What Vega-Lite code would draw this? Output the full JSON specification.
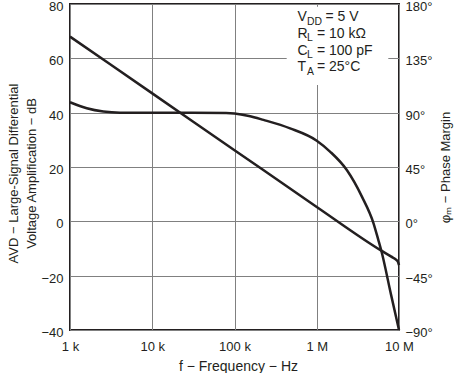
{
  "$schema": "https://vega.github.io/schema/vega-lite/v6.json",
  "width": 329,
  "height": 326,
  "autosize": "none",
  "padding": {"left": 70, "top": 4, "right": 57, "bottom": 43},
  "background": "white",
  "config": {
    "font": "Liberation Sans",
    "view": {"stroke": "#231f20", "strokeWidth": 2},
    "axis": {
      "labelFont": "Liberation Sans",
      "labelFontSize": 13,
      "labelColor": "#231f20",
      "titleFont": "Liberation Sans",
      "titleFontSize": 13,
      "titleFontWeight": "normal",
      "titleColor": "#231f20",
      "ticks": false,
      "tickSize": 0,
      "domain": false,
      "gridColor": "#808080",
      "gridWidth": 1,
      "gridOpacity": 1
    },
    "text": {"font": "Liberation Sans", "color": "#231f20"}
  },
  "datasets": {
    "gain": [
      {"f": 1000, "v": 68},
      {"f": 10000, "v": 47.1},
      {"f": 100000, "v": 26.2},
      {"f": 1000000, "v": 5.3},
      {"f": 6100000, "v": -10.8},
      {"f": 8060000, "v": -13.0},
      {"f": 9270000, "v": -14.2},
      {"f": 9700000, "v": -14.9},
      {"f": 10000000, "v": -16.1}
    ],
    "phase": [
      {"f": 1000, "deg": 98.6},
      {"f": 1600, "deg": 93.6},
      {"f": 2540, "deg": 90.9},
      {"f": 4060, "deg": 90.0},
      {"f": 10000, "deg": 90.0},
      {"f": 30000, "deg": 90.0},
      {"f": 79000, "deg": 89.8},
      {"f": 100000, "deg": 89.4},
      {"f": 150000, "deg": 87.3},
      {"f": 225000, "deg": 84.0},
      {"f": 474000, "deg": 77.0},
      {"f": 1000000, "deg": 66.8},
      {"f": 1460000, "deg": 57.6},
      {"f": 2320000, "deg": 42.5},
      {"f": 3540000, "deg": 20.5},
      {"f": 4900000, "deg": -1.6},
      {"f": 5600000, "deg": -15.3},
      {"f": 6120000, "deg": -24.8},
      {"f": 8000000, "deg": -60.7},
      {"f": 10000000, "deg": -90}
    ],
    "box": [{"f1": 431000, "f2": 7410000, "v1": 50.2, "v2": 79.0}],
    "notes": [
      {"f": 582000, "v": 73.63, "main": "V", "sub": "DD", "rest": "= 5 V"},
      {"f": 582000, "v": 67.48, "main": "R", "sub": "L", "rest": "= 10 kΩ"},
      {"f": 582000, "v": 61.33, "main": "C", "sub": "L", "rest": "= 100 pF"},
      {"f": 582000, "v": 55.23, "main": "T", "sub": "A", "rest": "= 25°C"}
    ]
  },
  "layer": [
    {
      "layer": [
        {
          "data": {"name": "box"},
          "mark": {"type": "rect", "fill": "white", "stroke": null},
          "encoding": {
            "x": {"field": "f1", "type": "quantitative", "scale": {"type": "log", "domain": [1000, 10000000], "nice": false}},
            "x2": {"field": "f2"},
            "y": {"field": "v1", "type": "quantitative"},
            "y2": {"field": "v2"}
          }
        },
        {
          "data": {"name": "gain"},
          "mark": {"type": "line", "color": "#231f20", "strokeWidth": 2.5, "interpolate": "monotone"},
          "encoding": {
            "x": {
              "field": "f",
              "type": "quantitative",
              "scale": {"type": "log", "domain": [1000, 10000000], "nice": false},
              "axis": {
                "values": [1000, 10000, 100000, 1000000, 10000000],
                "labelExpr": "datum.value >= 1000000 ? (datum.value / 1000000) + ' M' : (datum.value / 1000) + ' k'",
                "labelFlush": false,
                "labelPadding": 10,
                "labelBaseline": "top",
                "grid": true,
                "title": "f − Frequency − Hz",
                "titleFontSize": 14,
                "titleBaseline": "alphabetic",
                "titleX": 168,
                "titleY": 40
              }
            },
            "y": {
              "field": "v",
              "type": "quantitative",
              "scale": {"domain": [-40, 80], "nice": false, "zero": false},
              "axis": {
                "values": [-40, -20, 0, 20, 40, 60, 80],
                "grid": true,
                "labelPadding": 7,
                "labelOffset": 2.5,
                "title": ["AVD − Large-Signal Differential", "Voltage Amplification − dB"],
                "titleAngle": 270,
                "titleBaseline": "bottom",
                "titleLineHeight": 18,
                "titleX": -50,
                "titleY": 169
              }
            }
          }
        },
        {
          "data": {"name": "notes"},
          "mark": {"type": "text", "align": "left", "baseline": "alphabetic", "fontSize": 14},
          "encoding": {
            "x": {"field": "f", "type": "quantitative"},
            "y": {"field": "v", "type": "quantitative"},
            "text": {"field": "main"}
          }
        },
        {
          "data": {"name": "notes"},
          "mark": {"type": "text", "align": "left", "baseline": "alphabetic", "fontSize": 10.4, "dx": 9.6, "dy": 3.4},
          "encoding": {
            "x": {"field": "f", "type": "quantitative"},
            "y": {"field": "v", "type": "quantitative"},
            "text": {"field": "sub"}
          }
        },
        {
          "data": {"name": "notes"},
          "transform": [{"filter": "datum.sub == 'DD'"}],
          "mark": {"type": "text", "align": "left", "baseline": "alphabetic", "fontSize": 14, "dx": 28},
          "encoding": {
            "x": {"field": "f", "type": "quantitative"},
            "y": {"field": "v", "type": "quantitative"},
            "text": {"field": "rest"}
          }
        },
        {
          "data": {"name": "notes"},
          "transform": [{"filter": "datum.sub != 'DD'"}],
          "mark": {"type": "text", "align": "left", "baseline": "alphabetic", "fontSize": 14, "dx": 19.5},
          "encoding": {
            "x": {"field": "f", "type": "quantitative"},
            "y": {"field": "v", "type": "quantitative"},
            "text": {"field": "rest"}
          }
        }
      ]
    },
    {
      "data": {"name": "phase"},
      "mark": {"type": "line", "color": "#231f20", "strokeWidth": 2.5, "interpolate": "monotone"},
      "encoding": {
        "x": {"field": "f", "type": "quantitative"},
        "y": {
          "field": "deg",
          "type": "quantitative",
          "scale": {"domain": [-90, 180], "nice": false, "zero": false},
          "axis": {
            "orient": "right",
            "values": [-90, -45, 0, 45, 90, 135, 180],
            "labelExpr": "datum.label + '°'",
            "grid": false,
            "labelPadding": 6,
            "labelOffset": 2.5,
            "title": "φₘ − Phase Margin",
            "titleAngle": 270,
            "titleBaseline": "top",
            "titleX": 40,
            "titleY": 163
          }
        }
      }
    }
  ],
  "resolve": {"scale": {"y": "independent"}}
}
